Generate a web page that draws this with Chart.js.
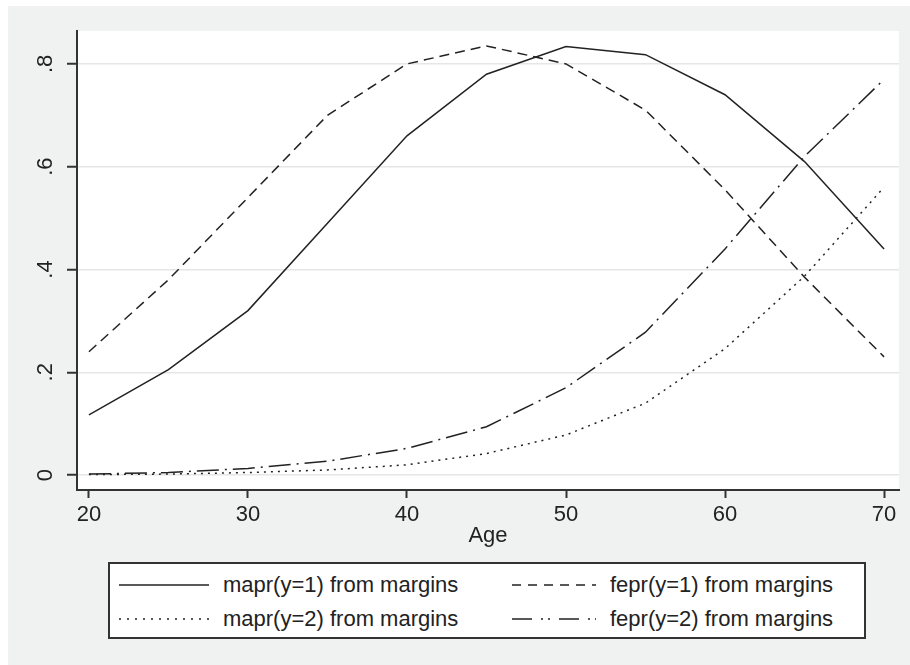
<!DOCTYPE html>
<html>
<head>
<meta charset="utf-8">
<script src="https://cdn.jsdelivr.net/npm/chart.js@4"></script>
<style>
  body { margin: 0; background: #fff; }
  #wrap { position: relative; width: 910px; height: 665px; }
  #panel { position: absolute; left: 8px; top: 6px; width: 902px; height: 659px; background: #f0f1f1; }
  #chart { position: absolute; left: 0; top: 0; }
  #legend {
    position: absolute; left: 108px; top: 562px; width: 754px; height: 73px;
    border: 2px solid #333; background: #fff;
    font-family: "Liberation Sans", Arial, sans-serif; font-size: 22px; color: #222;
  }
  .item { position: absolute; height: 30px; display: flex; align-items: center; }
  .item svg { margin-right: 14px; }
</style>
</head>
<body>
<div id="wrap">
  <div id="panel"></div>
  <canvas id="chart" width="910" height="665"></canvas>
  <div id="legend"></div>
</div>
<script>
// values
const ages = [20, 25, 30, 35, 40, 45, 50, 55, 60, 65, 70];
const maprY1 = [0.117, 0.205, 0.32, 0.49, 0.66, 0.78, 0.834, 0.818, 0.74, 0.61, 0.44];
const feprY1 = [0.24, 0.38, 0.54, 0.70, 0.80, 0.835, 0.80, 0.71, 0.555, 0.385, 0.23];
const maprY2 = [0.001, 0.002, 0.005, 0.01, 0.02, 0.042, 0.078, 0.14, 0.246, 0.387, 0.56];
const feprY2 = [0.002, 0.005, 0.013, 0.027, 0.052, 0.094, 0.17, 0.278, 0.44, 0.62, 0.77];

const xTicks = [20, 30, 40, 50, 60, 70];
const yTicks = [0, 0.2, 0.4, 0.6, 0.8];
const yTickLabels = ['0', '.2', '.4', '.6', '.8'];

const seriesNames = ['mapr(y=1) from margins', 'fepr(y=1) from margins',
                     'mapr(y=2) from margins', 'fepr(y=2) from margins'];
const seriesValues = [maprY1, feprY1, maprY2, feprY2];
const seriesDash = [[], [10, 6], [2, 5], [22, 6, 2, 6]];
const legendDash = [[], [9, 7], [2, 6], [20, 9, 2, 5, 2, 9]];
// legend layout: column, row
const legendPos = [[0, 0], [1, 0], [0, 1], [1, 1]];

const font = '"Liberation Sans", Arial, sans-serif';
const ink = '#222';

const plotBg = {
  id: 'plotBg',
  beforeDraw(chart) {
    const a = chart.chartArea;
    const ctx = chart.ctx;
    ctx.save();
    ctx.fillStyle = '#fff';
    ctx.fillRect(a.left, a.top, a.right - a.left, a.bottom - a.top);
    ctx.restore();
  }
};

const chart = new Chart(document.getElementById('chart'), {
  type: 'line',
  data: {
    datasets: seriesNames.map((name, i) => ({
      label: name,
      data: ages.map((a, j) => ({ x: a, y: seriesValues[i][j] })),
      borderColor: ink,
      borderWidth: 1.5,
      borderDash: seriesDash[i],
      pointRadius: 0,
      tension: 0,
      fill: false
    }))
  },
  options: {
    responsive: false,
    animation: false,
    layout: { padding: { left: 0, top: 31, right: 11, bottom: 116 } },
    plugins: { legend: { display: false }, tooltip: { enabled: false } },
    scales: {
      x: {
        type: 'linear',
        min: 19.25,
        max: 70.94,
        afterBuildTicks: s => { s.ticks = xTicks.map(v => ({ value: v })); },
        afterFit: s => { s.height = 59; },
        grid: { drawOnChartArea: false, tickLength: 8, tickColor: '#333', tickWidth: 2 },
        border: { color: '#333', width: 2 },
        ticks: { color: ink, font: { family: font, size: 22 }, padding: 4, maxRotation: 0 },
        title: { display: true, text: 'Age', color: ink, font: { family: font, size: 22 }, padding: 0 }
      },
      y: {
        min: -0.029,
        max: 0.864,
        afterBuildTicks: s => { s.ticks = yTicks.map(v => ({ value: v })); },
        afterFit: s => { s.width = 77; },
        grid: { color: '#e6e6e6', lineWidth: 1.5, tickLength: 10, tickColor: '#333', tickWidth: 2 },
        border: { color: '#333', width: 2 },
        ticks: {
          color: ink,
          font: { family: font, size: 22 },
          padding: 12,
          minRotation: 90,
          maxRotation: 90,
          crossAlign: 'center',
          callback: v => yTickLabels[yTicks.indexOf(v)] ?? ''
        }
      }
    }
  },
  plugins: [plotBg]
});

// legend box like the original
const legend = document.getElementById('legend');
seriesNames.forEach((name, i) => {
  const [col, row] = legendPos[i];
  const item = document.createElement('div');
  item.className = 'item';
  item.style.left = (col === 0 ? 9 : 402) + 'px';
  item.style.top = (row === 0 ? 6 : 40) + 'px';
  const w = col === 0 ? 90 : 84;
  item.innerHTML =
    '<svg width="' + w + '" height="10"><line x1="0" y1="5" x2="' + w + '" y2="5" stroke="' + ink +
    '" stroke-width="1.5" stroke-dasharray="' + legendDash[i].join(' ') + '"/></svg>' +
    '<span>' + name + '</span>';
  legend.appendChild(item);
});
</script>
</body>
</html>
